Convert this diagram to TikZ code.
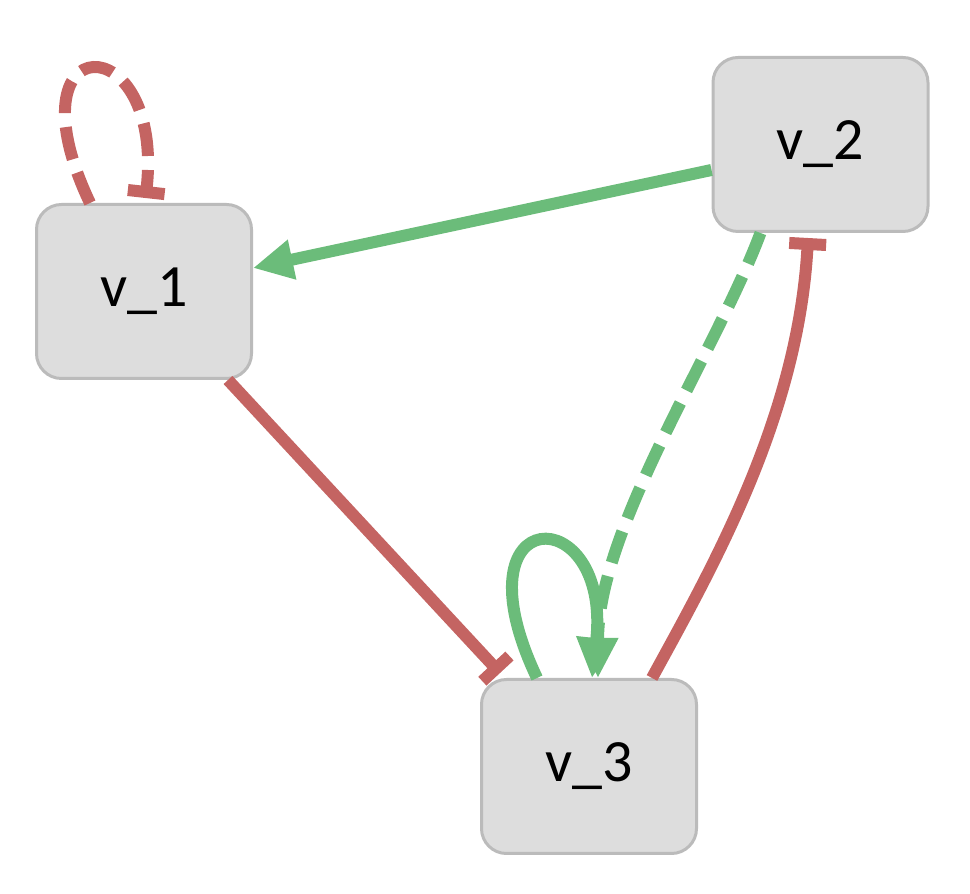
\documentclass[tikz,border=0pt]{standalone}
\usepackage{fontspec}
\setmainfont{Carlito}
\usetikzlibrary{arrows.meta, calc, positioning}
\definecolor{inhib}{HTML}{C46462}
\definecolor{activ}{HTML}{6BBC7A}
\definecolor{genefill}{HTML}{DDDDDD}
\definecolor{geneline}{HTML}{BBBBBB}

\begin{document}
\begin{tikzpicture}[x=0.5pt, y=0.5pt,
    gene/.style={draw=geneline, fill=genefill, line width=1.5pt, rounded corners=12.5pt,
        minimum width=107.5pt, minimum height=87pt, inner sep=0pt, font=\fontsize{30}{36}\selectfont},
    act/.style={draw=activ, line width=6pt, -{Triangle[length=20pt, width=19pt]}},
    inh/.style={draw=inhib, line width=6pt, -{Bar[width=18.5pt]}},
    dashy/.style={dash pattern=on 16.5pt off 7pt}]
    \useasboundingbox (0, 0) rectangle (970, 894);

    \node[gene] (v1) at (144, 602.5) {v\_1};
    \node[gene] (v2) at (820.5, 749.5) {v\_2};
    \node[gene] (v3) at (589, 127.5) {v\_3};

    \draw[inh, dashy, shorten >=2.5pt] ([xshift=-27pt]v1.north) .. controls +(-85, 179) and +(20, 179) .. ([xshift=0.5pt]v1.north);
    \draw[act] ([yshift=-12.75pt]v2.west) -- ([yshift=11.75pt]v1.east);
    \draw[act, dashy] ([xshift=-30pt]v2.south) .. controls +(-45, -120) and +(0, 150) .. ([xshift=4.5pt]v3.north);
    \draw[inh] ([xshift=31.5pt]v3.north) .. controls +(60, 110) and +(-10, -180) .. ([xshift=-6.25pt, yshift=-2.5pt]v2.south);
    \draw[inh] ([xshift=42pt]v1.south) -- ([xshift=-44.5pt, yshift=2.5pt]v3.north);
    \draw[act] ([xshift=-26pt]v3.north) .. controls +(-85, 179) and +(20, 179) .. ([xshift=1.5pt]v3.north);
\end{tikzpicture}
\end{document}
